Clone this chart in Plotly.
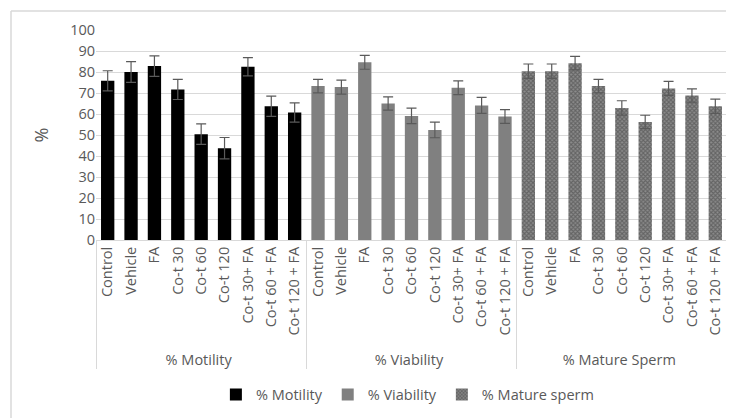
import plotly.graph_objects as go

# ── Data ─────────────────────────────────────────────
treatments = ["Control", "Vehicle", "FA", "Co-t 30", "Co-t 60", "Co-t 120",
              "Co-t 30+ FA", "Co-t 60 + FA", "Co-t 120 + FA"]
groups = ["% Motility", "% Viability", "% Mature Sperm"]
legend_names = ["% Motility", "% Viability", "% Mature sperm"]

motility = [75.8, 80.0, 82.8, 71.7, 50.4, 43.7, 82.5, 63.7, 60.7]
motility_err = [4.8, 4.9, 4.9, 4.8, 4.9, 5.1, 4.3, 4.8, 4.6]

viability = [73.3, 72.8, 84.6, 65.0, 59.1, 52.4, 72.5, 64.1, 58.8]
viability_err = [3.2, 3.3, 3.3, 3.2, 3.7, 3.7, 3.3, 3.8, 3.3]

mature = [80.4, 80.4, 84.2, 73.3, 62.9, 56.2, 72.2, 68.8, 63.7]
mature_err = [3.4, 3.4, 3.2, 3.2, 3.4, 3.2, 3.3, 3.2, 3.4]

y_ticks = [0, 10, 20, 30, 40, 50, 60, 70, 80, 90, 100]

# ── Figure ───────────────────────────────────────────
# page body has an 8px margin, so the figure is sized to fill the rest
W, H = 726, 410
L, R, T, B = 88, 7, 22, 178
PW, PH = W - L - R, H - T - B

FONT = "Open Sans"
TXT = "#595959"
ERR = "#5a5a5a"
GRID = "#d9d9d9"

series = [
    (motility, motility_err, dict(color="#000000")),
    (viability, viability_err, dict(color="#808080")),
    (mature, mature_err, dict(color="#6e6e6e",
                              pattern=dict(shape="x", size=3, solidity=0.6,
                                           fgcolor="#3c3c3c", bgcolor="#8c8c8c"))),
]

fig = go.Figure()
for grp, name, (vals, errs, mk) in zip(groups, legend_names, series):
    fig.add_trace(go.Bar(
        x=[[grp] * len(treatments), treatments], y=vals, name=name,
        marker=dict(line=dict(width=0), **mk),
        error_y=dict(type="data", array=errs, color=ERR, thickness=1.2, width=5),
    ))

bx = (3 - L) / PW          # outer chart border, left edge
by = 1 + (T - 3) / PH      # outer chart border, top edge

fig.update_layout(
    width=W, height=H,
    margin=dict(l=L, r=R, t=T, b=B, autoexpand=False),
    paper_bgcolor="white", plot_bgcolor="white",
    barmode="relative", bargap=0.43,
    font=dict(family=FONT, size=14, color=TXT),
    showlegend=True,
    legend=dict(orientation="h", x=0.19, xanchor="left", y=-0.66, yanchor="top",
                font=dict(size=14.5, color=TXT), itemwidth=30, traceorder="normal"),
    yaxis=dict(range=[0, 100], tickvals=y_ticks, showgrid=True, gridcolor=GRID,
               gridwidth=1, zeroline=False, showline=False, ticks="",
               tickfont=dict(size=14.5, color=TXT), automargin=False,
               title=dict(text="%", font=dict(size=18, color=TXT), standoff=16)),
    xaxis=dict(type="multicategory", tickangle=-90, showline=True, linecolor=GRID,
               showdividers=True, dividercolor=GRID, dividerwidth=1,
               tickfont=dict(size=14.5, color=TXT), ticks="", automargin=False),
    shapes=[
        dict(type="line", xref="paper", yref="paper", x0=bx, x1=1.05,
             y0=by, y1=by, line=dict(color=GRID, width=1.5)),
        dict(type="line", xref="paper", yref="paper", x0=bx, x1=bx,
             y0=by, y1=-1.0, line=dict(color=GRID, width=1.5)),
    ],
)

fig.write_html("out.html")
